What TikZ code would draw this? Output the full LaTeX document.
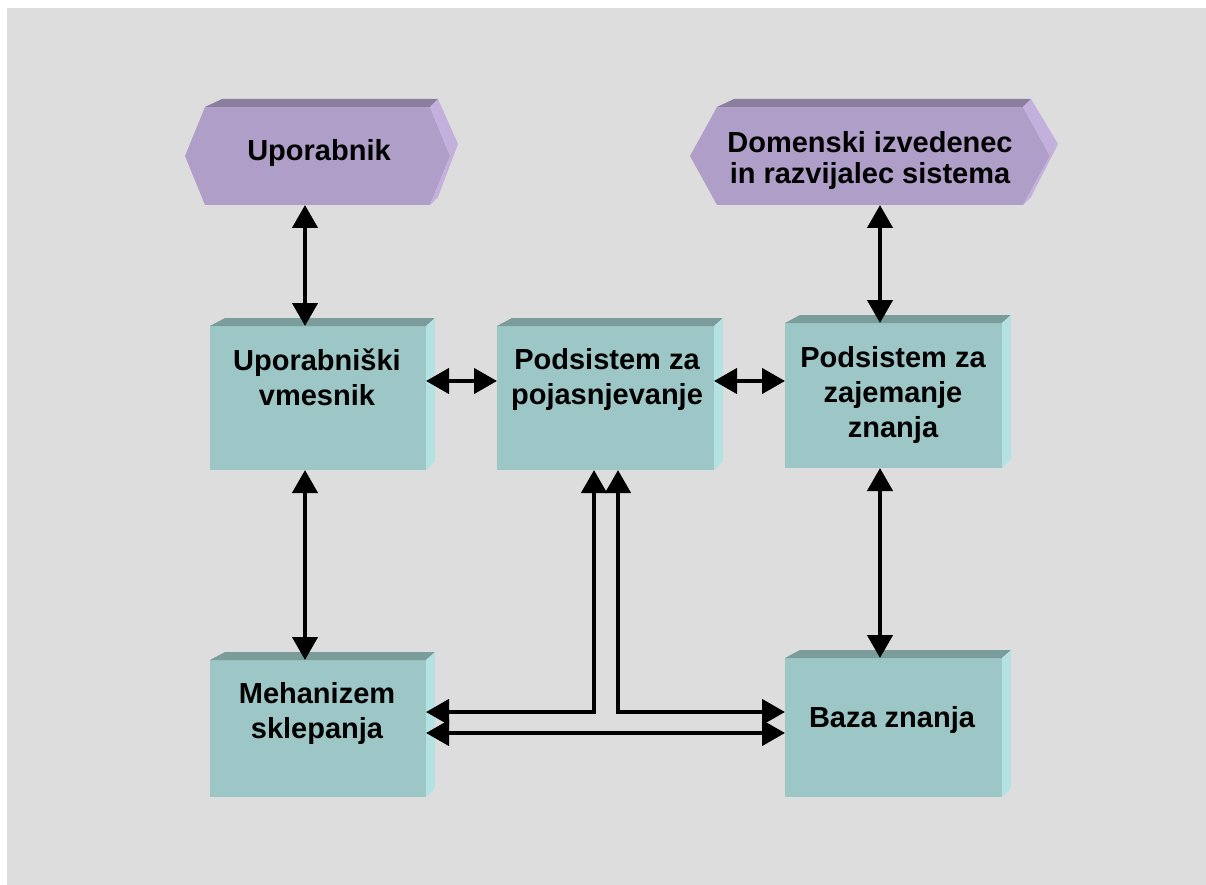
\documentclass[tikz,border=0pt]{standalone}
\usepackage{fontspec}
\setmainfont{Liberation Sans}
\usetikzlibrary{arrows.meta,calc}

\definecolor{canvas}{RGB}{221,221,221}
\definecolor{boxfront}{RGB}{157,198,198}
\definecolor{boxtop}{RGB}{122,156,155}
\definecolor{boxside}{RGB}{180,226,226}
\definecolor{hexfront}{RGB}{175,158,199}
\definecolor{hextop}{RGB}{139,126,158}
\definecolor{hexside}{RGB}{195,176,220}

% top and right faces of a block whose front face is node #1
\newcommand\blockdepth[1]{%
  \fill[boxtop] (#1.north west) -- ++(15,-8) -- ($(#1.north east)+(9,-8)$) -- (#1.north east) -- cycle;
  \fill[boxside] (#1.north east) -- ++(9,-8) -- ($(#1.south east)+(9,-9)$) -- (#1.south east) -- cycle;}

% hexagonal plate around node #1, point depth #2
\newcommand\hexplate[2]{%
  \fill[hexfront] (#1.north west) -- (#1.north east) -- ($(#1.east)+(#2,0)$) -- (#1.south east)
    -- (#1.south west) -- ($(#1.west)+(-#2,0)$) -- cycle;
  \fill[hextop] (#1.north west) -- ++(17,-8) -- ($(#1.north east)+(8,-8)$) -- (#1.north east) -- cycle;
  \fill[hexside] (#1.north east) -- ++(8,-8) -- ($(#1.east)+(#2+8,-12)$) -- ($(#1.south east)+(8,-8)$)
    -- (#1.south east) -- ($(#1.east)+(#2,0)$) -- cycle;}

\begin{document}
\begin{tikzpicture}[x=1pt,y=-1pt,
  face/.style={draw=none, inner sep=0pt, outer sep=0pt},
  block/.style={face, fill=boxfront},
  txt/.style={inner sep=0pt, outer sep=0pt, align=center,
    font=\fontsize{29}{35}\selectfont\bfseries},
  arr/.style={line width=4.3pt, line join=miter,
    {Triangle[length=23pt,width=25pt]}-{Triangle[length=23pt,width=25pt]}}]

\useasboundingbox (0,0) rectangle (1206,885);
\fill[white] (0,0) rectangle (1206,885);
\fill[canvas] (7,8) rectangle (1206,885);

% actors
\node[face, minimum width=225pt, minimum height=98pt] (u) at (317.5,156) {};
\hexplate{u}{20}
\node[txt, anchor=base] (uT) at (319,161) {Uporabnik};

\node[face, minimum width=306pt, minimum height=98pt] (d) at (870,156) {};
\hexplate{d}{27}
\node[txt, anchor=north, font=\fontsize{29}{31.5}\selectfont\bfseries] (dT) at (870,131)
  {Domenski izvedenec\\in razvijalec sistema};

% system blocks
\node[block, minimum width=216pt, minimum height=144pt] (uv) at (318,398) {};
\blockdepth{uv}
\node[txt, anchor=north] (uvT) at (317,349) {Uporabniški\\vmesnik};

\node[block, minimum width=217pt, minimum height=144pt] (pp) at (605.5,398) {};
\blockdepth{pp}
\node[txt, anchor=north] (ppT) at (607,348) {Podsistem za\\pojasnjevanje};

\node[block, minimum width=217pt, minimum height=145pt] (pz) at (893.5,395.5) {};
\blockdepth{pz}
\node[txt, anchor=north] (pzT) at (893,346) {Podsistem za\\zajemanje\\znanja};

\node[block, minimum width=216pt, minimum height=137pt] (mz) at (318,728.5) {};
\blockdepth{mz}
\node[txt, anchor=north] (mzT) at (317,682) {Mehanizem\\sklepanja};

\node[block, minimum width=217pt, minimum height=139pt] (bz) at (893.5,727.5) {};
\blockdepth{bz}
\node[txt, anchor=base] (bzT) at (892,727) {Baza znanja};

% connector guides
\coordinate (colL) at (305,0);
\coordinate (colR) at (880,0);
\coordinate (rowT) at (0,381);
\coordinate (joinL) at (594,0);
\coordinate (joinR) at (618,0);
\coordinate (rowB1) at (0,712);
\coordinate (rowB2) at (0,733);

% connectors
\draw[arr] (u.south -| colL) -- (uv.north -| colL);
\draw[arr] (d.south -| colR) -- (pz.north -| colR);
\draw[arr] (uv.east |- rowT) -- (pp.west |- rowT);
\draw[arr] (pp.east |- rowT) -- (pz.west |- rowT);
\draw[arr] (uv.south -| colL) -- (mz.north -| colL);
\draw[arr] (pz.south -| colR) -- (bz.north -| colR);
\draw[arr] (pp.south -| joinL) -- (joinL |- rowB1) -- (mz.east |- rowB1);
\draw[arr] (pp.south -| joinR) -- (joinR |- rowB1) -- (bz.west |- rowB1);
\draw[arr] (mz.east |- rowB2) -- (bz.west |- rowB2);

\end{tikzpicture}
\end{document}
